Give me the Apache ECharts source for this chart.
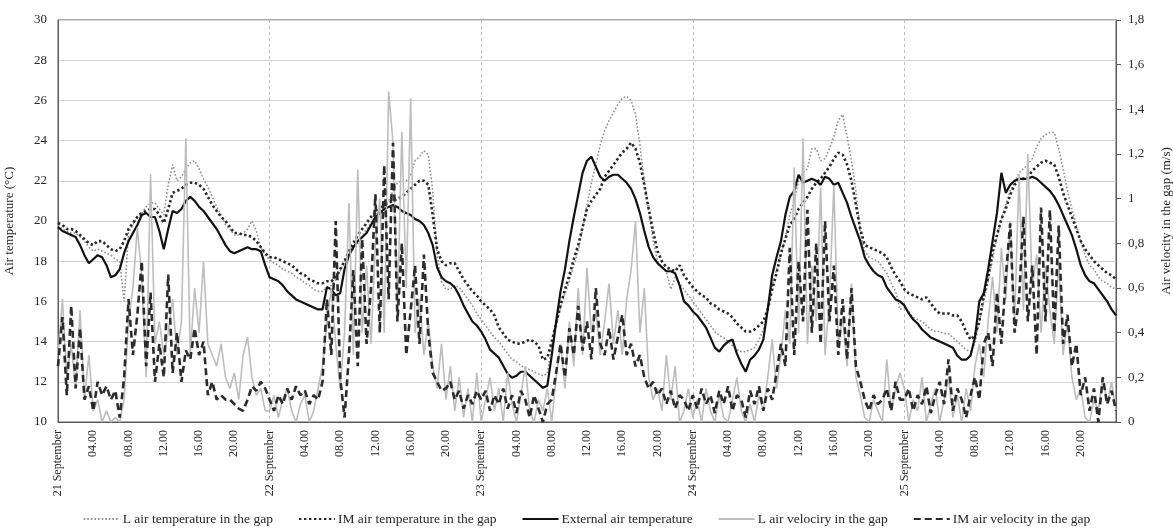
<!DOCTYPE html>
<html>
<head>
<meta charset="utf-8">
<script src="https://cdn.jsdelivr.net/npm/echarts@6/dist/echarts.min.js"></script>
<style>
  html, body { margin: 0; padding: 0; background: #ffffff; }
  #chart { width: 1173px; height: 531px; }
</style>
</head>
<body>
<div id="chart"></div>
<script>
// Sampling step of every series, in hours from 21 September 00:00
const stepHours = 0.5;

// Axis tick labels
const dayLabels = ['21 September', '22 September', '23 September', '24 September', '25 September'];
const hourLabels = ['04.00', '08.00', '12.00', '16.00', '20.00'];

// Series names
const seriesNames = [
  'L air temperature in the gap',
  'IM air temperature in the gap',
  'External air temperature',
  'L air velociry in the gap',
  'IM air velocity in the gap'
];

// L air temperature in the gap (°C), half-hourly
const lTemp = [
  19.8,19.6,19.5,19.4,19.4,19.2,19.0,18.7,18.5,18.6,18.5,18.4,18.3,18.1,18.0,16.0,19.4,19.8,20.2,20.4,20.7,20.9,20.9,20.6,
  20.3,21.8,22.8,22.0,22.2,22.6,22.9,23.0,22.6,22.1,21.7,21.2,20.7,20.3,19.8,19.6,19.3,19.3,19.4,19.6,20.0,19.5,18.7,18.3,
  18.1,17.9,17.8,17.6,17.5,17.4,17.2,17.1,16.9,16.8,16.6,16.5,16.5,16.7,16.8,17.1,17.5,18.0,18.3,18.6,18.9,19.2,19.6,19.9,
  20.3,20.5,20.7,21.0,21.5,21.9,22.0,22.0,22.3,23.0,23.2,23.5,23.3,21.5,18.3,17.0,16.6,16.6,16.8,16.7,16.4,16.1,15.8,15.4,
  15.1,14.8,14.5,14.2,14.0,13.7,13.4,13.1,13.0,12.8,12.7,12.6,12.5,12.4,12.3,12.4,13.8,14.8,15.7,16.4,17.0,17.8,18.5,19.6,
  20.8,21.9,22.8,23.8,24.5,25.0,25.4,25.8,26.1,26.2,26.0,25.3,23.8,22.0,20.5,19.0,18.0,17.7,17.5,16.6,17.2,16.9,16.6,16.3,
  16.0,15.7,15.4,15.1,14.8,14.5,14.3,14.2,14.0,13.8,13.6,13.5,13.5,13.6,13.7,14.1,14.6,15.6,16.7,17.6,18.3,19.2,20.3,21.0,
  22.0,22.4,22.6,23.6,23.6,23.0,23.1,23.6,24.2,25.0,25.3,24.2,23.0,21.5,19.4,18.5,18.2,18.1,18.0,17.7,17.4,16.9,16.5,15.6,
  15.7,15.5,15.2,15.1,15.0,14.8,14.6,14.5,14.5,14.4,14.4,14.2,14.0,13.8,13.6,13.5,13.9,15.0,16.0,17.0,18.1,19.2,20.1,20.8,
  21.5,21.9,22.4,22.6,22.8,23.1,23.7,24.1,24.3,24.4,24.4,23.6,22.6,21.5,20.6,19.8,19.0,18.3,17.8,17.6,17.2,17.0,16.9,16.7,
  16.6
];

// IM air temperature in the gap (°C), half-hourly
const imTemp = [
  19.9,19.8,19.6,19.6,19.5,19.3,19.1,18.9,18.8,19.0,19.0,18.8,18.6,18.5,18.6,19.0,19.6,19.9,20.2,20.4,20.5,20.6,20.6,20.3,
  19.9,20.6,21.4,21.5,21.6,21.8,21.9,21.9,21.8,21.6,21.2,20.8,20.5,20.2,20.0,19.7,19.4,19.4,19.3,19.3,19.2,19.0,18.7,18.4,
  18.2,18.2,18.1,18.0,17.9,17.8,17.6,17.4,17.3,17.1,17.0,16.9,16.9,17.0,17.0,17.2,17.6,18.0,18.5,18.9,19.3,19.6,19.9,20.2,
  20.4,20.6,20.8,20.9,21.0,21.1,21.2,21.4,21.6,21.8,22.0,22.0,21.8,20.3,18.6,18.0,17.8,17.9,17.9,17.5,17.1,16.8,16.5,16.3,
  16.0,15.8,15.6,15.3,14.7,14.4,14.1,14.0,13.9,13.9,14.0,14.1,14.0,13.8,13.1,13.2,14.0,14.9,15.8,16.6,17.3,18.1,18.8,19.7,
  20.6,21.0,21.3,21.6,22.2,22.5,22.8,23.1,23.4,23.6,23.9,23.6,22.9,21.8,20.6,19.5,18.5,18.0,17.7,17.6,17.5,17.8,17.3,17.0,
  16.7,16.5,16.3,16.2,15.9,15.8,15.6,15.5,15.4,15.2,14.9,14.7,14.5,14.5,14.6,14.8,15.0,15.6,16.6,17.4,18.4,19.1,19.8,20.1,
  20.6,20.9,21.2,21.6,21.9,22.1,22.4,22.7,23.1,23.4,23.3,22.8,22.0,20.8,19.6,18.8,18.7,18.6,18.5,18.4,18.2,17.7,17.3,17.0,
  16.6,16.4,16.3,16.2,16.1,16.2,15.9,15.6,15.4,15.4,15.4,15.3,15.3,15.0,14.5,14.1,14.3,15.0,16.3,17.2,18.5,19.3,20.1,20.6,
  21.3,21.8,22.0,22.1,22.2,22.5,22.7,22.9,23.0,22.9,22.8,22.2,21.4,20.8,20.2,19.6,19.0,18.6,18.3,18.0,17.8,17.6,17.4,17.3,
  17.1
];

// External air temperature (°C), half-hourly
const externalTemp = [
  19.7,19.5,19.4,19.3,19.2,18.8,18.3,17.9,18.1,18.3,18.2,17.8,17.2,17.3,17.6,18.4,19.0,19.4,19.8,20.3,20.4,20.2,20.2,19.5,
  18.6,19.6,20.5,20.4,20.6,21.0,21.2,21.0,20.7,20.5,20.2,19.9,19.6,19.2,18.8,18.5,18.4,18.5,18.6,18.7,18.6,18.6,18.5,17.8,
  17.2,17.1,17.0,16.8,16.5,16.3,16.1,16.0,15.9,15.8,15.7,15.6,15.6,16.7,16.6,16.3,16.4,17.6,18.3,18.7,19.0,19.2,19.4,19.8,
  20.2,20.4,20.6,20.7,20.8,20.7,20.5,20.4,20.3,20.1,20.0,19.8,19.4,18.8,17.7,17.2,17.0,16.9,16.7,16.3,15.8,15.4,15.0,14.8,
  14.5,14.1,13.6,13.4,13.2,12.8,12.4,12.2,12.3,12.5,12.5,12.3,12.1,11.9,11.7,11.8,13.3,15.0,16.5,17.6,19.0,20.2,21.3,22.4,
  23.0,23.2,22.7,22.2,22.0,22.2,22.3,22.3,22.1,21.9,21.6,21.1,20.4,19.5,18.7,18.2,17.9,17.7,17.5,17.5,17.4,16.8,16.0,15.8,
  15.5,15.3,15.0,14.7,14.2,13.7,13.5,13.8,14.0,14.1,13.4,12.9,12.5,13.1,13.3,13.6,14.1,15.6,17.3,18.2,19.0,20.3,21.2,21.5,
  22.3,21.9,22.0,22.1,22.0,21.8,22.2,22.1,21.8,21.9,21.4,20.9,20.2,19.6,19.0,18.2,17.8,17.5,17.3,17.2,16.7,16.4,16.1,16.0,
  15.8,15.4,15.1,14.9,14.6,14.4,14.2,14.1,14.0,13.9,13.8,13.7,13.3,13.1,13.1,13.3,14.2,16.0,16.4,17.6,19.0,20.4,22.4,21.4,
  21.8,22.0,22.1,22.1,22.1,22.2,22.1,21.9,21.7,21.5,21.2,20.8,20.3,19.8,19.3,18.6,17.8,17.3,17.0,16.9,16.6,16.3,16.0,15.6,
  15.3
];

// L air velocity in the gap (m/s), half-hourly
const lVelocity = [
  0.30,0.55,0.20,0.35,0.15,0.50,0.10,0.30,0.05,0.10,0.00,0.05,0.00,0.02,0.00,0.10,0.45,0.60,0.87,0.65,0.20,1.11,0.35,0.45,
  0.30,0.40,0.55,0.30,0.45,1.27,0.30,0.60,0.40,0.72,0.35,0.30,0.25,0.35,0.20,0.15,0.22,0.10,0.30,0.38,0.20,0.12,0.15,0.05,
  0.05,0.12,0.02,0.10,0.15,0.05,0.00,0.08,0.12,0.00,0.05,0.15,0.25,0.45,0.60,0.35,0.15,0.40,0.98,0.30,1.13,0.40,0.70,0.35,
  0.80,1.00,0.40,1.48,1.25,0.50,1.30,0.60,1.45,0.40,0.55,0.30,0.45,0.25,0.15,0.35,0.10,0.25,0.05,0.20,0.02,0.15,0.00,0.22,
  0.00,0.10,0.20,0.05,0.15,0.00,0.22,0.08,0.00,0.12,0.25,0.05,0.00,0.10,0.05,0.15,0.00,0.20,0.35,0.15,0.45,0.25,0.60,0.30,
  0.69,0.40,0.50,0.30,0.45,0.62,0.35,0.50,0.30,0.55,0.68,0.90,0.40,0.60,0.20,0.10,0.15,0.05,0.30,0.10,0.25,0.00,0.05,0.15,
  0.02,0.10,0.00,0.15,0.05,0.00,0.12,0.02,0.00,0.10,0.20,0.05,0.00,0.08,0.00,0.12,0.05,0.20,0.37,0.15,0.30,0.50,0.35,1.14,
  0.40,1.27,0.35,0.70,0.45,1.05,0.30,0.55,1.06,0.35,0.47,0.25,0.62,0.20,0.12,0.02,0.00,0.10,0.05,0.00,0.28,0.05,0.15,0.22,
  0.15,0.00,0.10,0.05,0.20,0.00,0.08,0.15,0.00,0.10,0.20,0.02,0.12,0.00,0.15,0.05,0.25,0.35,0.20,0.45,0.65,0.40,0.78,0.55,
  0.90,0.45,1.11,0.50,1.20,0.60,0.75,0.40,0.70,0.50,0.35,0.72,0.30,0.45,0.20,0.10,0.15,0.02,0.00,0.10,0.05,0.20,0.08,0.18,
  0.05
];

// IM air velocity in the gap (m/s), half-hourly
const imVelocity = [
  0.25,0.47,0.12,0.52,0.15,0.42,0.10,0.16,0.05,0.18,0.12,0.16,0.10,0.14,0.02,0.20,0.55,0.30,0.48,0.72,0.25,0.58,0.18,0.35,
  0.20,0.66,0.22,0.40,0.18,0.32,0.28,0.42,0.30,0.36,0.12,0.18,0.10,0.12,0.10,0.10,0.08,0.06,0.05,0.10,0.16,0.14,0.18,0.15,
  0.10,0.05,0.12,0.08,0.15,0.10,0.16,0.12,0.14,0.08,0.12,0.10,0.18,0.55,0.30,0.90,0.20,0.02,0.30,0.68,0.25,0.82,0.35,0.60,
  1.02,0.40,1.15,0.55,1.25,0.45,0.80,0.30,0.50,0.70,0.35,0.75,0.40,0.22,0.18,0.14,0.15,0.18,0.10,0.14,0.06,0.12,0.08,0.14,
  0.10,0.14,0.05,0.12,0.08,0.15,0.06,0.12,0.04,0.14,0.10,0.02,0.12,0.06,0.00,0.08,0.10,0.22,0.35,0.20,0.42,0.30,0.52,0.32,
  0.45,0.28,0.60,0.35,0.30,0.42,0.28,0.38,0.48,0.30,0.35,0.25,0.30,0.20,0.15,0.18,0.12,0.15,0.08,0.14,0.06,0.12,0.10,0.05,
  0.12,0.06,0.15,0.08,0.12,0.04,0.14,0.08,0.16,0.05,0.12,0.10,0.02,0.14,0.08,0.16,0.05,0.15,0.10,0.22,0.35,0.25,0.78,0.30,
  0.72,0.45,0.95,0.40,0.80,0.35,0.90,0.45,0.70,0.30,0.55,0.28,0.60,0.25,0.18,0.10,0.05,0.12,0.08,0.10,0.15,0.05,0.18,0.10,
  0.10,0.15,0.05,0.12,0.08,0.16,0.04,0.12,0.18,0.08,0.28,0.05,0.15,0.10,0.02,0.12,0.20,0.10,0.35,0.40,0.25,0.58,0.35,0.65,
  0.89,0.40,0.55,0.92,0.45,0.70,0.30,0.96,0.45,0.95,0.40,0.88,0.35,0.48,0.25,0.35,0.12,0.20,0.05,0.15,0.00,0.20,0.08,0.14,
  0.05
];

const serif = 'Liberation Serif';
const textColor = '#262626';
const frameColor = '#595959';

function toPairs(values) {
  return values.map((v, i) => [i * stepHours, v]);
}

function timeLabel(h) {
  if (h % 24 === 0) {
    const d = h / 24;
    return d < dayLabels.length ? dayLabels[d] : '';
  }
  const idx = (h % 24) / 4 - 1;
  return hourLabels[idx] || '';
}

const chart = echarts.init(document.getElementById('chart'), null, { renderer: 'canvas' });

chart.setOption({
  animation: false,
  backgroundColor: '#ffffff',
  grid: {
    left: 58, right: 57, top: 20, bottom: 109,
    containLabel: false, outerBoundsMode: 'none',
    show: true, borderColor: frameColor, borderWidth: 1, backgroundColor: 'transparent'
  },
  legend: {
    left: 'center', top: 507,
    itemWidth: 36, itemHeight: 10, itemGap: 25,
    itemStyle: { opacity: 0 },
    textStyle: { fontFamily: serif, fontSize: 13.5, color: textColor, padding: [0, 0, 0, -2] },
    data: seriesNames
  },
  xAxis: [
    {
      type: 'value', min: 0, max: 120, interval: 4,
      axisLine: { show: true, onZero: false, lineStyle: { color: frameColor, width: 1 } },
      axisTick: { show: false },
      splitLine: { show: false },
      axisLabel: {
        rotate: 90, margin: 8, fontFamily: serif, fontSize: 12, color: textColor,
        showMinLabel: true, showMaxLabel: true,
        formatter: timeLabel
      }
    },
    {
      // day boundaries, drawn as dashed vertical lines
      type: 'value', min: 0, max: 120, interval: 24, position: 'bottom',
      axisLine: { show: false, onZero: false }, axisTick: { show: false }, axisLabel: { show: false },
      splitLine: { show: true, lineStyle: { color: '#bcbcbc', width: 1, type: [3, 3] } }
    }
  ],
  yAxis: [
    {
      type: 'value', min: 10, max: 30, interval: 2, position: 'left',
      name: 'Air temperature (°C)', nameLocation: 'middle', nameGap: 42, nameRotate: 90,
      nameTextStyle: { fontFamily: serif, fontSize: 13, color: textColor },
      axisLine: { show: true, onZero: false, lineStyle: { color: frameColor, width: 1 } },
      axisTick: { show: false },
      axisLabel: { margin: 11, fontFamily: serif, fontSize: 13, color: textColor },
      splitLine: { show: true, lineStyle: { color: '#d4d4d4', width: 1 } }
    },
    {
      type: 'value', min: 0, max: 1.8, interval: 0.2, position: 'right',
      name: 'Air velocity in the gap (m/s)', nameLocation: 'middle', nameGap: 44, nameRotate: 90,
      nameTextStyle: { fontFamily: serif, fontSize: 13, color: textColor },
      axisLine: { show: true, onZero: false, lineStyle: { color: frameColor, width: 1 } },
      axisTick: { show: true, inside: false, length: 5, lineStyle: { color: frameColor } },
      axisLabel: {
        margin: 12, fontFamily: serif, fontSize: 13, color: textColor,
        formatter: v => String(Math.round(v * 10) / 10).replace('.', ',')
      },
      splitLine: { show: false }
    }
  ],
  series: [
    {
      name: seriesNames[0], type: 'line', yAxisIndex: 0, symbol: 'none',
      data: toPairs(lTemp),
      lineStyle: { color: '#8f8f8f', width: 1.6, type: [1.6, 2.0] },
      itemStyle: { color: '#8f8f8f' }
    },
    {
      name: seriesNames[1], type: 'line', yAxisIndex: 0, symbol: 'none',
      data: toPairs(imTemp),
      lineStyle: { color: '#262626', width: 2.6, type: [2.4, 2.6] },
      itemStyle: { color: '#262626' }
    },
    {
      name: seriesNames[2], type: 'line', yAxisIndex: 0, symbol: 'none',
      data: toPairs(externalTemp),
      lineStyle: { color: '#111111', width: 2.2 },
      itemStyle: { color: '#111111' }
    },
    {
      name: seriesNames[3], type: 'line', yAxisIndex: 1, symbol: 'none',
      data: toPairs(lVelocity),
      lineStyle: { color: '#bdbdbd', width: 1.6 },
      itemStyle: { color: '#bdbdbd' }
    },
    {
      name: seriesNames[4], type: 'line', yAxisIndex: 1, symbol: 'none',
      data: toPairs(imVelocity),
      lineStyle: { color: '#2b2b2b', width: 2.6, type: [7, 4] },
      itemStyle: { color: '#2b2b2b' }
    }
  ]
});
</script>
</body>
</html>
